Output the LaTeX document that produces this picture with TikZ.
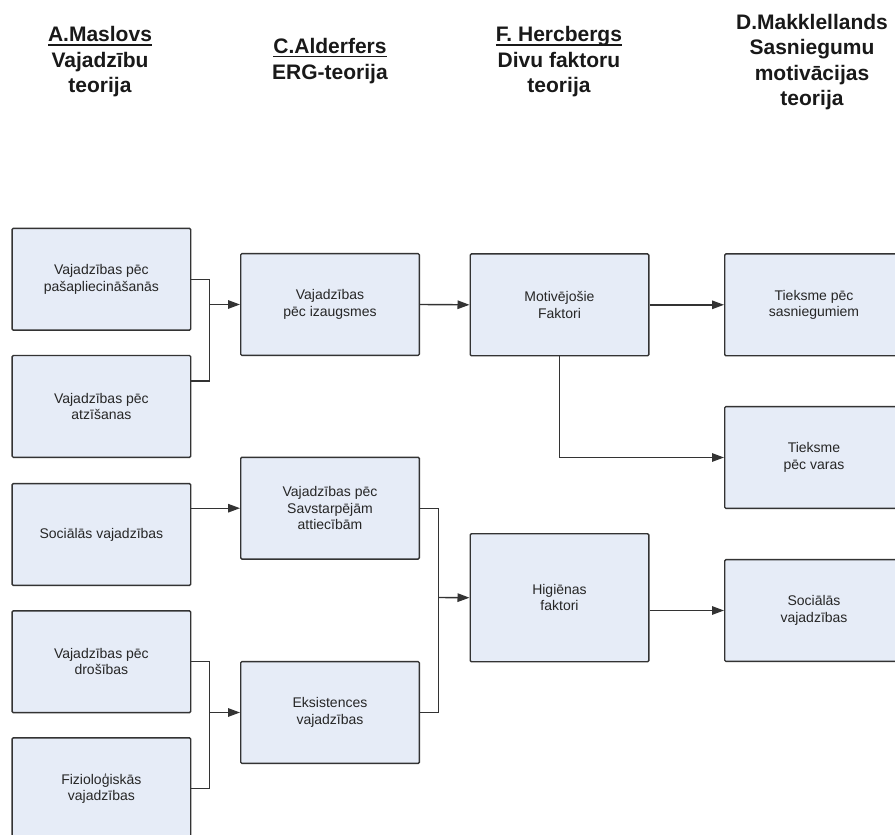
\documentclass[tikz,border=0pt]{standalone}
\usepackage{fontspec}
\setmainfont{Liberation Sans}
\usetikzlibrary{arrows.meta}
\definecolor{boxfill}{HTML}{E6ECF7}
\definecolor{boxline}{HTML}{333333}
\newcommand\hul[1]{\setbox0\hbox{#1}\rlap{\raisebox{-3.8pt}{\rule{\wd0}{1.7pt}}}\box0}
\tikzset{
  box/.style={draw=boxline, fill=boxfill, line width=1.4pt, rounded corners=1.2pt,
    minimum width=178.6pt, minimum height=101.8pt, inner sep=0pt, align=center,
    font=\fontsize{14}{16.5}\selectfont, text=black!85},
  conn/.style={draw=boxline, line width=1.4pt},
  arr/.style={conn, -{Triangle[length=12pt,width=8.5pt]}},
  head/.style={align=center, font=\bfseries\fontsize{21}{25.5}\selectfont, inner sep=0pt, text=black!90}
}
\begin{document}
\begin{tikzpicture}[x=1pt,y=-1pt]
\useasboundingbox (0,0) rectangle (895,835);
\clip (0,0) rectangle (895,835);
\fill[white] (0,0) rectangle (895,835);
% headers
\node[head] (hm) at (100,62) {\hul{A.Maslovs}\\Vajadzību\\teorija};
\node[head] (ha) at (330,61) {\hul{C.Alderfers}\\ERG-teorija};
\node[head] (hh) at (559,62) {\hul{F. Hercbergs}\\Divu faktoru\\teorija};
\node[head] (hd) at (812,62) {D.Makklellands\\Sasniegumu\\motivācijas\\teorija};
% Maslow
\node[box] (m1) at (101.4,279.2) {Vajadzības pēc\\pašapliecināšanās};
\node[box] (m2) at (101.4,406.4) {Vajadzības pēc\\atzīšanas};
\node[box] (m3) at (101.4,534.5) {Sociālās vajadzības};
\node[box] (m4) at (101.4,661.7) {Vajadzības pēc\\drošības};
\node[box] (m5) at (101.4,788.7) {Fizioloģiskās\\vajadzības};
% Alderfer
\node[box] (a1) at (330,304.5) {Vajadzības\\pēc izaugsmes};
\node[box] (a2) at (330,508.2) {Vajadzības pēc\\Savstarpējām\\attiecībām};
\node[box] (a3) at (330,712.5) {Eksistences\\vajadzības};
% Herzberg
\node[box] (h1) at (559.5,304.8) {Motivējošie\\Faktori};
\node[box, minimum height=128pt] (h2) at (559.5,597.7) {Higiēnas\\faktori};
% McClelland
\node[box] (d1) at (814,304.8) {Tieksme pēc\\sasniegumiem};
\node[box] (d2) at (814,457.5) {Tieksme\\pēc varas};
\node[box] (d3) at (814,610.5) {Sociālās\\vajadzības};
% junctions
\coordinate (j1) at (209.3,304.5);
\coordinate (j2) at (209.3,712.5);
\coordinate (j3) at (438.3,597.5);
\coordinate (m2p) at (190.7,381);
% connectors
\draw[conn] (m1.east) -| (j1) |- (m2p);
\draw[arr] (j1) -- (a1.west);
\draw[arr] (m3.east |- a2.west) -- (a2.west);
\draw[conn] (m4.east) -| (j2) |- (m5.east);
\draw[arr] (j2) -- (a3.west);
\draw[conn] (a2.east) -| (j3) |- (a3.east);
\draw[arr] (j3) -- (h2.west);
\draw[arr] (a1.east) -- (h1.west);
\draw[arr] (h1.east) -- (d1.west);
\draw[arr] (h1.south) |- (d2.west);
\draw[arr] (h2.east |- d3.west) -- (d3.west);
\end{tikzpicture}
\end{document}
